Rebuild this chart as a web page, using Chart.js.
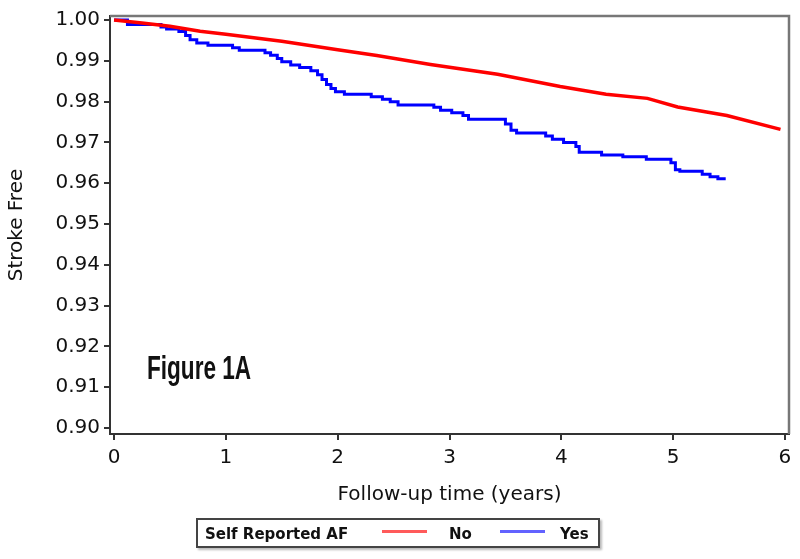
<!DOCTYPE html>
<html>
<head>
<meta charset="utf-8">
<script src="https://cdn.jsdelivr.net/npm/chart.js@4.4.0/dist/chart.umd.min.js"></script>
<style>
  html, body { margin: 0; padding: 0; background: #fff; }
  #wrap { position: relative; width: 800px; height: 559px; }
  #fig { position: absolute; left: 147px; top: 351px; font: bold 33px/33px "Liberation Sans Narrow", "Liberation Sans", sans-serif; color: #111; transform-origin: left top; white-space: nowrap; }
  #legend { position: absolute; left: 196px; top: 518px; width: 400px; height: 26px; border: 2px solid #444; box-shadow: 2px 2px 2px #bbb; background: #fff; }
  #legend span { position: absolute; top: 7px; font: bold 15px/15px "DejaVu Sans", sans-serif; color: #111; white-space: nowrap; }
  #legend i { position: absolute; top: 10px; height: 3px; width: 45px; }
</style>
</head>
<body>
<div id="wrap">
  <canvas id="km" width="800" height="559"></canvas>
  <div id="fig">Figure 1A</div>
  <div id="legend">
    <span style="left:7px">Self Reported AF</span>
    <i style="left:184px; background:#ff5a5a"></i>
    <span style="left:251px">No</span>
    <i style="left:302px; background:#6262ff"></i>
    <span style="left:362px">Yes</span>
  </div>
</div>
<script>
// Self Reported AF = No
const noTime = [0, 0.25, 0.5, 0.77, 1.0, 1.5, 2.0, 2.35, 2.83, 3.43, 3.99, 4.4, 4.77, 5.04, 5.48, 5.96];
const noSurv = [1.000, 0.9993, 0.9985, 0.99725, 0.9965, 0.9948, 0.9927, 0.9913, 0.9891, 0.9867, 0.9837, 0.9818, 0.9808, 0.9787, 0.9766, 0.9732];

// Self Reported AF = Yes
const yesTime = [0, 0.12, 0.42, 0.47, 0.58, 0.64, 0.68, 0.74, 0.84, 1.06, 1.12, 1.35, 1.40, 1.46, 1.50, 1.58, 1.66, 1.76, 1.82, 1.86, 1.90, 1.94, 1.98, 2.06, 2.30, 2.40, 2.47, 2.54, 2.86, 2.92, 3.02, 3.12, 3.17, 3.50, 3.55, 3.60, 3.86, 3.92, 4.02, 4.13, 4.16, 4.36, 4.55, 4.76, 4.98, 5.02, 5.06, 5.26, 5.33, 5.40, 5.47];
const yesSurv = [1.000, 0.9989, 0.9983, 0.9978, 0.9972, 0.9962, 0.9952, 0.9944, 0.9938, 0.9932, 0.9926, 0.9920, 0.9914, 0.9906, 0.9898, 0.9890, 0.9884, 0.9876, 0.9866, 0.9854, 0.9842, 0.9832, 0.9824, 0.9818, 0.9812, 0.9806, 0.9800, 0.9792, 0.9786, 0.9779, 0.9773, 0.9766, 0.9757, 0.9745, 0.9730, 0.9723, 0.9716, 0.9708, 0.9700, 0.9690, 0.9676, 0.9669, 0.9665, 0.9659, 0.9650, 0.9633, 0.9629, 0.9622, 0.9616, 0.9611, 0.9611];

const xTicks = [0, 1, 2, 3, 4, 5, 6];
const yTicks = [0.90, 0.91, 0.92, 0.93, 0.94, 0.95, 0.96, 0.97, 0.98, 0.99, 1.00];

const toPoints = (xs, ys) => xs.map((x, i) => ({ x: x, y: ys[i] }));

// grey frame round the plot area
const framePlugin = {
    id: 'frame',
    afterDraw(chart) {
        const a = chart.chartArea, ctx = chart.ctx;
        ctx.save();
        ctx.strokeStyle = '#777';
        ctx.lineWidth = 2.5;
        ctx.beginPath();
        ctx.moveTo(a.left, a.top);
        ctx.lineTo(a.right, a.top);
        ctx.lineTo(a.right, a.bottom);
        ctx.stroke();
        ctx.restore();
    }
};

const tickFont = { family: '"DejaVu Sans", sans-serif', size: 20 };
const axisGrid = { display: true, drawOnChartArea: false, drawTicks: true, tickLength: 6, color: '#333', lineWidth: 2 };

new Chart(document.getElementById('km'), {
    type: 'line',
    data: {
        datasets: [
            {
                label: 'No',
                data: toPoints(noTime, noSurv),
                borderColor: '#ff0000',
                borderWidth: 3.5,
                pointRadius: 0,
                tension: 0
            },
            {
                label: 'Yes',
                data: toPoints(yesTime, yesSurv),
                borderColor: '#0000ff',
                borderWidth: 3,
                pointRadius: 0,
                stepped: true
            }
        ]
    },
    options: {
        responsive: false,
        animation: false,
        layout: { padding: { left: 0, top: 13, right: 11, bottom: 45 } },
        plugins: {
            legend: { display: false },
            tooltip: { enabled: false }
        },
        scales: {
            x: {
                type: 'linear',
                min: -0.036,
                max: 6.036,
                afterFit: s => { s.height = 80; },
                afterBuildTicks: s => { s.ticks = xTicks.map(v => ({ value: v })); },
                ticks: { font: tickFont, color: '#111', padding: 6, callback: v => String(v) },
                grid: axisGrid,
                border: { display: true, color: '#333', width: 2 },
                title: { display: true, text: 'Follow-up time (years)', font: tickFont, color: '#111', padding: { top: 0, bottom: 7 } }
            },
            y: {
                type: 'linear',
                min: 0.8985,
                max: 1.001,
                afterFit: s => { s.width = 110; },
                afterBuildTicks: s => { s.ticks = yTicks.map(v => ({ value: v })); },
                ticks: { font: tickFont, color: '#111', padding: 4, callback: v => v.toFixed(2) },
                grid: axisGrid,
                border: { display: true, color: '#333', width: 2 },
                title: { display: true, text: 'Stroke Free', font: { family: '"DejaVu Sans", sans-serif', size: 20 }, color: '#111', padding: { top: 5, bottom: 0 } }
            }
        }
    },
    plugins: [framePlugin]
});

const fig = document.getElementById('fig');
fig.style.transform = 'scaleX(' + (104 / fig.offsetWidth) + ')';
</script>
</body>
</html>
